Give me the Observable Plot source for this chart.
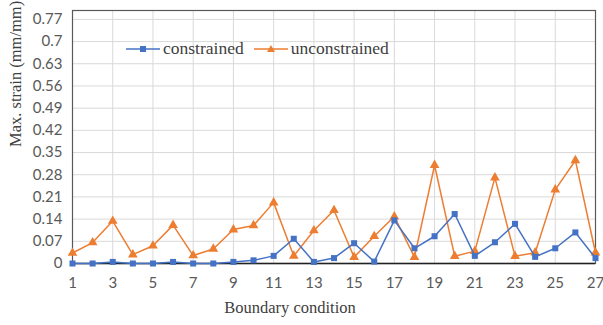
<!DOCTYPE html>
<html><head><meta charset="utf-8">
<script src="https://cdn.jsdelivr.net/npm/d3@7"></script>
<script src="https://cdn.jsdelivr.net/npm/@observablehq/plot@0.6"></script>
<style>
body{margin:0;background:#fff;}
#wrap{position:relative;width:603px;height:325px;font-family:"Liberation Serif",serif;}
#legend{position:absolute;left:126px;top:38px;display:flex;align-items:center;font-size:17.5px;color:#404040;}
#legend .item{display:flex;align-items:center;margin-right:10px;}
#legend svg{margin-right:3px;}
</style></head>
<body><div id="wrap"><div id="chart"></div>
<div id="legend">
<div class="item"><svg width="34" height="12"><line x1="0" y1="6" x2="34" y2="6" stroke="#4472C4" stroke-width="1.5"/><rect x="14" y="3" width="6" height="6" fill="#4472C4"/></svg><span>constrained</span></div>
<div class="item"><svg width="34" height="12"><line x1="0" y1="6" x2="34" y2="6" stroke="#ED7D31" stroke-width="1.5"/><path d="M17,2 L21,9 L13,9 Z" fill="#ED7D31"/></svg><span>unconstrained</span></div>
</div></div>
<script>
const conditions = d3.range(1, 28);
const constrained = [0, 0, 0.005, 0, 0, 0.005, 0, 0, 0.005, 0.01, 0.024, 0.078, 0.005, 0.017, 0.064, 0.006, 0.136, 0.048, 0.086, 0.156, 0.024, 0.067, 0.125, 0.021, 0.048, 0.098, 0.017];
const unconstrained = [0.033, 0.066, 0.134, 0.028, 0.056, 0.121, 0.025, 0.046, 0.107, 0.12, 0.192, 0.024, 0.104, 0.168, 0.02, 0.086, 0.148, 0.02, 0.31, 0.023, 0.039, 0.271, 0.023, 0.034, 0.233, 0.325, 0.034];
const yTicks = [0, 0.07, 0.14, 0.21, 0.28, 0.35, 0.42, 0.49, 0.56, 0.63, 0.7, 0.77];
const xTicks = [1, 3, 5, 7, 9, 11, 13, 15, 17, 19, 21, 23, 25, 27];

const dataC = conditions.map((c, i) => ({x: c, y: constrained[i]}));
const dataU = conditions.map((c, i) => ({x: c, y: unconstrained[i]}));
const blue = "#4472C4", orange = "#ED7D31";
const serif = "'Liberation Serif', serif";
const sans = "Lato, 'Liberation Sans', sans-serif";

const chart = Plot.plot({
  width: 603, height: 325,
  marginLeft: 72, marginRight: 8, marginTop: 10, marginBottom: 62,
  style: {fontFamily: sans, fontSize: "14px", color: "#595959", background: "#fff"},
  x: {domain: [1, 27]},
  y: {domain: [0, 0.798]},
  marks: [
    Plot.gridX(xTicks, {stroke: "#d9d9d9", strokeOpacity: 1}),
    Plot.gridY(yTicks, {stroke: "#d9d9d9", strokeOpacity: 1}),
    Plot.frame({stroke: "#595959", strokeWidth: 1.2}),
    Plot.ruleY([0], {stroke: "#222", strokeWidth: 1.5}),
    Plot.axisY(yTicks, {tickSize: 0, tickPadding: 10, fontSize: 15, fill: "#595959", tickFormat: d => String(d), label: null}),
    Plot.axisX(xTicks, {tickSize: 0, tickPadding: 14, fontSize: 15, fill: "#595959", label: null}),
    Plot.line(dataU, {x: "x", y: "y", stroke: orange, strokeWidth: 1.5}),
    Plot.dot(dataU, {x: "x", y: "y", symbol: "triangle", r: 3.6, fill: orange}),
    Plot.line(dataC, {x: "x", y: "y", stroke: blue, strokeWidth: 1.5}),
    Plot.dot(dataC, {x: "x", y: "y", symbol: "square", r: 3.4, fill: blue}),
    Plot.text(["Boundary condition"], {frameAnchor: "bottom", dy: 49, dx: -44, fontSize: 16.5, fill: "#404040", fontFamily: serif}),
    Plot.text(["Max. strain (mm/mm)"], {frameAnchor: "left", dx: -57, dy: 10, rotate: -90, fontSize: 16.5, fill: "#404040", fontFamily: serif})
  ]
});
document.getElementById("chart").appendChild(chart);
</script></body></html>
